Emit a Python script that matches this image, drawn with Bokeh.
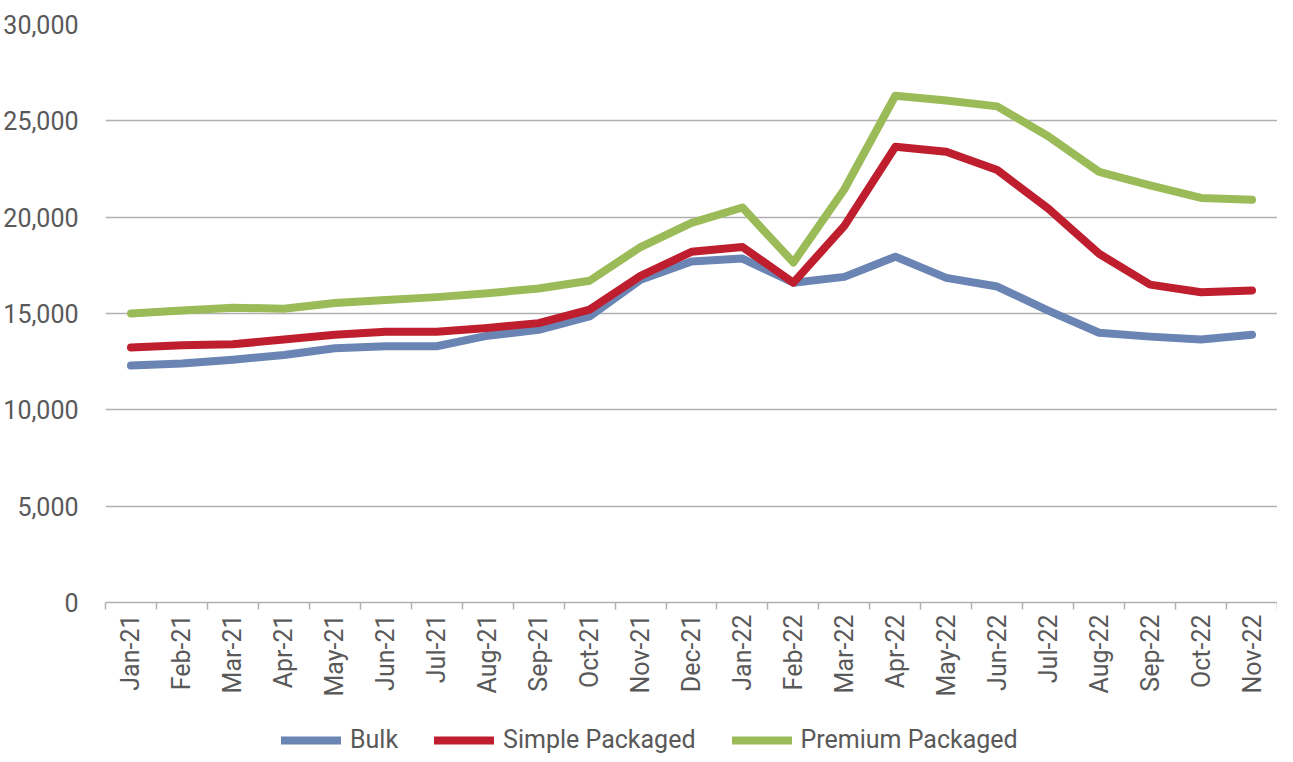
from bokeh.plotting import figure
from bokeh.layouts import column
from bokeh.models import FixedTicker, Legend, LegendItem, NumeralTickFormatter, Range1d
from bokeh.core.properties import value
from bokeh.embed import file_html
from bokeh.resources import INLINE

months = ["Jan-21", "Feb-21", "Mar-21", "Apr-21", "May-21", "Jun-21", "Jul-21", "Aug-21",
          "Sep-21", "Oct-21", "Nov-21", "Dec-21", "Jan-22", "Feb-22", "Mar-22", "Apr-22",
          "May-22", "Jun-22", "Jul-22", "Aug-22", "Sep-22", "Oct-22", "Nov-22"]
bulk = [12300, 12400, 12600, 12850, 13200, 13300, 13300, 13850, 14150, 14850, 16750, 17700,
        17850, 16600, 16900, 17950, 16850, 16400, 15150, 14000, 13800, 13650, 13900]
simple = [13230, 13350, 13400, 13650, 13900, 14050, 14050, 14250, 14500, 15200, 16950, 18200,
          18450, 16600, 19550, 23650, 23400, 22450, 20450, 18100, 16500, 16100, 16200]
premium = [15000, 15150, 15300, 15250, 15550, 15700, 15850, 16050, 16300, 16700, 18450, 19700,
           20500, 17650, 21450, 26300, 26050, 25750, 24200, 22350, 21650, 21000, 20900]
series_names = ["Bulk", "Simple Packaged", "Premium Packaged"]
colors = ["#6A85B4", "#BE1E2D", "#9BBB59"]
y_ticks = [0, 5000, 10000, 15000, 20000, 25000, 30000]

FONT = "Roboto"
TXT = "#595959"

n = len(months)
xs = [i + 0.5 for i in range(n)]
series = [bulk, simple, premium]

p = figure(width=1277, height=714, output_backend="svg", toolbar_location=None,
           x_range=Range1d(0, n), y_range=Range1d(0, 30000),
           min_border_left=98, min_border_top=24, min_border_right=0, min_border_bottom=112)
p.outline_line_color = None
p.background_fill_color = "white"
p.border_fill_color = "white"

for vals, c in zip(series, colors):
    p.line(xs, vals, line_color=c, line_width=8, line_cap="round", line_join="round")

# x axis
p.xaxis.ticker = FixedTicker(ticks=xs, minor_ticks=list(range(n + 1)))
p.xaxis.major_label_overrides = {x: m for x, m in zip(xs, months)}
p.xaxis.major_label_orientation = 3.14159265 / 2
p.xaxis.major_tick_out = 0
p.xaxis.major_tick_in = 0
p.xaxis.minor_tick_out = 7
p.xaxis.minor_tick_in = 0
p.xaxis.minor_tick_line_color = "#B0B0B0"
p.xaxis.minor_tick_line_width = 1.5
p.xaxis.axis_line_color = "#B0B0B0"
p.xaxis.axis_line_width = 1.5
p.xaxis.major_label_text_font = FONT
p.xaxis.major_label_text_font_size = "25px"
p.xaxis.major_label_text_color = TXT
p.xaxis.major_label_standoff = 5
p.xgrid.grid_line_color = None

# y axis
p.yaxis.ticker = FixedTicker(ticks=y_ticks)
p.yaxis.formatter = NumeralTickFormatter(format="0,0")
p.yaxis.axis_line_color = None
p.yaxis.major_tick_line_color = None
p.yaxis.minor_tick_line_color = None
p.yaxis.major_label_text_font = FONT
p.yaxis.major_label_text_font_size = "25px"
p.yaxis.major_label_text_color = TXT
p.yaxis.major_label_standoff = 21
p.ygrid.grid_line_color = "#B0B0B0"
p.ygrid.grid_line_width = 1.5

# legend strip below the chart
lg = figure(width=1277, height=40, output_backend="svg", toolbar_location=None,
            x_range=Range1d(0, n), y_range=Range1d(0, 30000),
            x_axis_type=None, y_axis_type=None,
            min_border_left=0, min_border_top=0, min_border_right=0, min_border_bottom=0)
lg.outline_line_color = None
lg.grid.grid_line_color = None
lg_renderers = []
for vals, c in zip(series, colors):
    r = lg.line(xs, vals, line_color=c, line_width=8, line_cap="round", visible=False)
    lg_renderers.append(r)

legend = Legend(items=[LegendItem(label=value(nm), renderers=[r]) for nm, r in zip(series_names, lg_renderers)],
                orientation="horizontal", location=(176, 0),
                label_text_font=FONT, label_text_font_size="25px", label_text_color=TXT,
                glyph_width=60, glyph_height=28, label_standoff=9, spacing=36,
                border_line_color=None, background_fill_alpha=0, margin=0, padding=2,
                inactive_fill_alpha=0)
lg.add_layout(legend, "center")

layout = column(p, lg, spacing=0)
open("out.html", "w").write(file_html(layout, INLINE))
